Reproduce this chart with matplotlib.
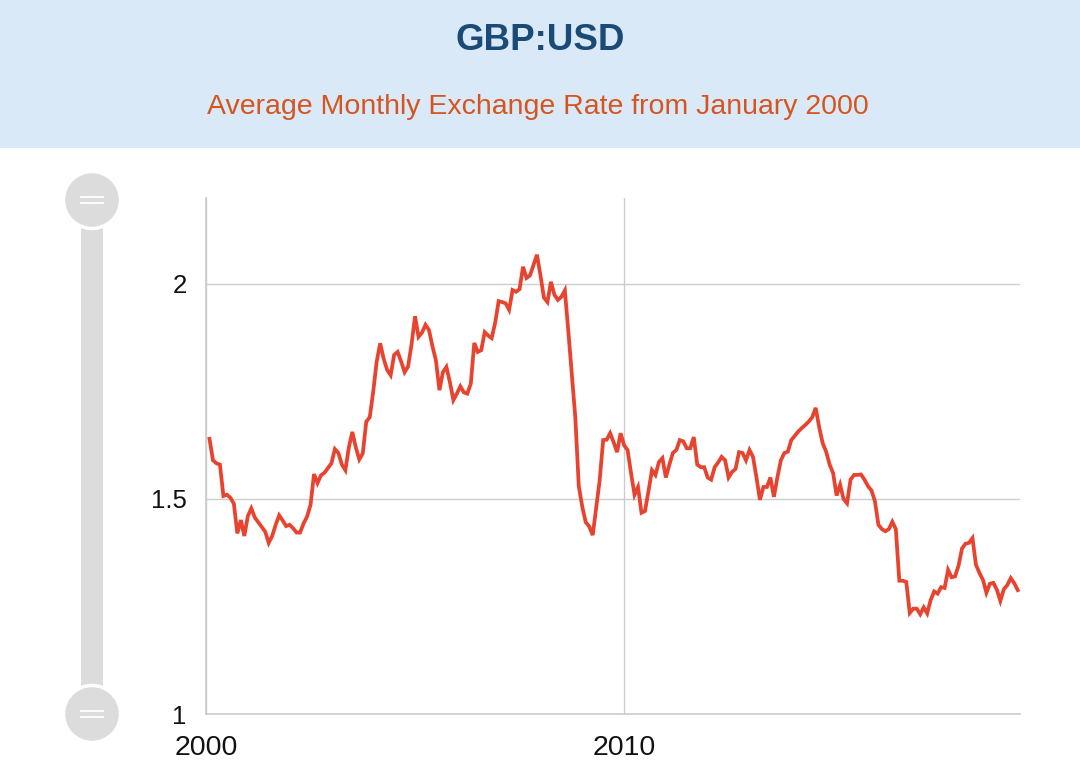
import matplotlib.pyplot as plt
from matplotlib.patches import Rectangle, Circle
import numpy as np

# average monthly GBP:USD rate, Jan 2000 .. May 2019
rate_2000 = [1.64, 1.59, 1.583, 1.58, 1.507, 1.51, 1.503, 1.489, 1.42, 1.451, 1.414, 1.46]
rate_2001 = [1.478, 1.457, 1.446, 1.435, 1.424, 1.398, 1.414, 1.44, 1.462, 1.45, 1.437, 1.44]
rate_2002 = [1.432, 1.422, 1.422, 1.443, 1.459, 1.486, 1.558, 1.537, 1.555, 1.561, 1.572, 1.583]
rate_2003 = [1.616, 1.607, 1.58, 1.567, 1.62, 1.656, 1.62, 1.592, 1.606, 1.68, 1.69, 1.75]
rate_2004 = [1.82, 1.862, 1.826, 1.80, 1.788, 1.835, 1.842, 1.82, 1.795, 1.808, 1.86, 1.925]
rate_2005 = [1.877, 1.887, 1.905, 1.893, 1.855, 1.822, 1.753, 1.795, 1.807, 1.772, 1.73, 1.745]
rate_2006 = [1.762, 1.748, 1.745, 1.768, 1.863, 1.842, 1.846, 1.888, 1.88, 1.874, 1.91, 1.96]
rate_2007 = [1.958, 1.955, 1.94, 1.986, 1.982, 1.988, 2.04, 2.014, 2.02, 2.044, 2.068, 2.02]
rate_2008 = [1.968, 1.958, 2.005, 1.975, 1.963, 1.97, 1.985, 1.89, 1.79, 1.69, 1.53, 1.482]
rate_2009 = [1.446, 1.436, 1.416, 1.48, 1.544, 1.637, 1.638, 1.653, 1.632, 1.609, 1.653, 1.625]
rate_2010 = [1.614, 1.56, 1.51, 1.528, 1.468, 1.472, 1.518, 1.567, 1.556, 1.586, 1.595, 1.55]
rate_2011 = [1.58, 1.607, 1.614, 1.637, 1.634, 1.618, 1.618, 1.644, 1.58, 1.574, 1.574, 1.55]
rate_2012 = [1.545, 1.574, 1.585, 1.598, 1.59, 1.55, 1.563, 1.57, 1.609, 1.607, 1.59, 1.614]
rate_2013 = [1.598, 1.55, 1.498, 1.528, 1.528, 1.55, 1.505, 1.55, 1.59, 1.607, 1.61, 1.637]
rate_2014 = [1.647, 1.657, 1.665, 1.672, 1.68, 1.69, 1.712, 1.667, 1.63, 1.61, 1.58, 1.56]
rate_2015 = [1.508, 1.533, 1.50, 1.49, 1.545, 1.556, 1.556, 1.557, 1.545, 1.53, 1.52, 1.495]
rate_2016 = [1.44, 1.43, 1.425, 1.43, 1.447, 1.43, 1.31, 1.31, 1.307, 1.235, 1.245, 1.245]
rate_2017 = [1.232, 1.248, 1.234, 1.265, 1.285, 1.28, 1.295, 1.293, 1.335, 1.318, 1.32, 1.345]
rate_2018 = [1.385, 1.396, 1.398, 1.409, 1.347, 1.328, 1.312, 1.282, 1.303, 1.305, 1.289, 1.263]
rate_2019 = [1.29, 1.30, 1.316, 1.304, 1.288]

rates = (rate_2000 + rate_2001 + rate_2002 + rate_2003 + rate_2004 + rate_2005
         + rate_2006 + rate_2007 + rate_2008 + rate_2009 + rate_2010 + rate_2011
         + rate_2012 + rate_2013 + rate_2014 + rate_2015 + rate_2016 + rate_2017
         + rate_2018 + rate_2019)
# each monthly average is drawn at the end of its month
months = 2000 + (np.arange(len(rates)) + 1) / 12.0

y_ticks = [1, 1.5, 2]
y_labels = ['1', '1.5', '2']
x_ticks = [2000, 2010]
x_labels = ['2000', '2010']

title = 'GBP:USD'
subtitle = 'Average Monthly Exchange Rate from January 2000'

plt.rcParams['font.family'] = ['Liberation Sans', 'DejaVu Sans']

fig = plt.figure(figsize=(10.8, 7.82), dpi=100)

# background decoration: header band and the range slider on the left
deco = fig.add_axes([0, 0, 1, 1])
deco.set_xlim(0, 1080)
deco.set_ylim(782, 0)
deco.axis('off')
deco.add_patch(Rectangle((0, 0), 1080, 148, color='#d9e9f7', lw=0))
deco.add_patch(Rectangle((81, 200), 22, 514, color='#dcdcdc', lw=0))
for cy in (200, 714):
    deco.add_patch(Circle((92, cy), 28.5, fc='#dcdcdc', ec='white', lw=2.5))
    deco.plot([81, 103], [cy - 3, cy - 3], color='white', lw=1.3)
    deco.plot([81, 103], [cy + 3, cy + 3], color='white', lw=1.3)

fig.text(0.5 + 0.5 / 1080, 1 - 40 / 782, title, ha='center', va='center',
         fontsize=26.5, fontweight='bold', color='#1c4a77')
fig.text(538 / 1080, 1 - 107 / 782, subtitle, ha='center', va='center',
         fontsize=20.5, color='#d6541f')

ax = fig.add_axes([206 / 1080, 1 - 714 / 782, 814 / 1080, 516 / 782])
ax.set_facecolor('none')
ax.plot(months, rates, color='#e8432f', lw=2.7, solid_joinstyle='miter', zorder=3)

ax.set_xlim(2000, 2019.47)
ax.set_ylim(1, 2.2)
ax.set_yticks(y_ticks)
ax.set_yticklabels(y_labels)
ax.set_xticks(x_ticks)
ax.set_xticklabels(x_labels)
ax.tick_params(length=0, colors='#111111')
ax.tick_params(axis='y', labelsize=18.5, pad=14)
ax.tick_params(axis='x', labelsize=20.5, pad=15)

ax.grid(True, color='#cccccc', lw=1)
for s in ('top', 'right'):
    ax.spines[s].set_visible(False)
for s in ('left', 'bottom'):
    ax.spines[s].set_color('#cccccc')
    ax.spines[s].set_linewidth(1.2)

fig.savefig('out.png', dpi=100)
